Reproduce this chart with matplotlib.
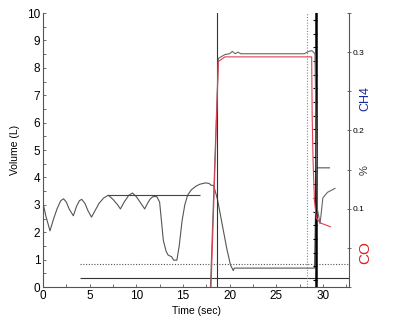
import matplotlib
matplotlib.use("Agg")
import matplotlib.pyplot as plt
from matplotlib.ticker import MultipleLocator
import numpy as np

plt.rcParams['font.family'] = ['Liberation Sans', 'DejaVu Sans']

# Volume trace (left axis, L)
vol_t = [0.0, 0.3, 0.75, 1.1, 1.5, 1.9, 2.2, 2.5, 2.8, 3.25, 3.6, 3.9, 4.15, 4.5, 4.8,
         5.2, 5.6, 6.0, 6.5, 7.0, 7.5, 8.0, 8.3, 8.7, 9.2, 9.6, 10.0, 10.5, 10.9,
         11.2, 11.5, 11.8, 12.2, 12.5, 12.7, 12.9, 13.2, 13.4, 13.8, 14.0,
         14.35, 14.6, 14.9, 15.2, 15.5, 15.9, 16.4, 16.8, 17.4, 17.8, 18.0, 18.3,
         18.7, 19.2, 19.7, 20.1, 20.4, 20.5, 29.1, 29.3, 30.7]
vol_v = [3.07, 2.6, 2.05, 2.45, 2.85, 3.15, 3.22, 3.1, 2.85, 2.6, 2.95, 3.15, 3.2, 3.05,
         2.8, 2.55, 2.8, 3.05, 3.25, 3.35, 3.2, 3.0, 2.85, 3.1, 3.35, 3.43, 3.3, 3.05,
         2.85, 3.05, 3.22, 3.3, 3.3, 3.1, 2.4, 1.7, 1.3, 1.17, 1.1, 0.98,
         0.98, 1.5, 2.4, 3.0, 3.35, 3.55, 3.68, 3.75, 3.8, 3.78, 3.72, 3.7,
         3.2, 2.3, 1.4, 0.8, 0.6, 0.69, 0.69, 4.35, 4.35]

# CH4 (right axis, %)
ch4_t = [17.95, 18.8, 19.5, 20.0, 20.3, 20.6, 20.9, 21.2, 25.0, 28.0, 28.5, 28.8,
         29.0, 29.15, 29.4, 29.7, 30.0, 30.5, 31.3]
ch4_v = [0.0, 0.292, 0.297, 0.298, 0.301, 0.298, 0.300, 0.298, 0.298, 0.298, 0.301,
         0.302, 0.300, 0.298, 0.10, 0.081, 0.114, 0.121, 0.126]

# CO (right axis, %)
co_t = [18.0, 18.8, 19.5, 28.8, 28.85, 28.95, 29.1, 29.3, 29.7, 30.8]
co_v = [-0.005, 0.288, 0.294, 0.294, 0.22, 0.16, 0.11, 0.088, 0.082, 0.077]

# reference lines
line_solid_t = 18.65
line_dotted_t = 28.3
line_thick_t = 29.3
hline_solid_v = 0.33
hline_dotted_v = 0.84
hline_start_t = 4.0
hline_mid_v = 3.37
hline_mid_range = (7.0, 16.8)

fig = plt.figure(figsize=(4.0, 3.27), dpi=100)
ax = fig.add_axes([0.1075, 0.1223, 0.765, 0.8378])
ax.set_xlim(0, 32.8)
ax.set_ylim(0, 10)

ax.plot(vol_t, vol_v, color='#555555', lw=0.8)
ax.hlines(hline_solid_v, hline_start_t, 32.8, color='#333333', lw=0.8)
ax.hlines(hline_dotted_v, hline_start_t, 32.8, color='#555555', lw=0.8, linestyles=(0, (1, 1.5)))
ax.hlines(hline_mid_v, *hline_mid_range, color='#444444', lw=0.8)
ax.axvline(line_solid_t, color='#333333', lw=0.8)
ax.axvline(line_dotted_t, color='#888888', lw=0.8, ls=(0, (1, 1.5)))
ax.axvline(line_thick_t, color='black', lw=1.8)
marks = np.arange(0.25, 10, 0.5)
ax.plot(np.full(len(marks), line_thick_t - 0.12), marks, ls='none', marker='_',
        color='black', ms=3, mew=0.8)

ax.spines['top'].set_visible(False)
ax.spines['right'].set_visible(False)
for s in ['left', 'bottom']:
    ax.spines[s].set_color('#555555')
    ax.spines[s].set_linewidth(0.8)
ax.xaxis.set_major_locator(MultipleLocator(5))
ax.xaxis.set_minor_locator(MultipleLocator(2.5))
ax.yaxis.set_major_locator(MultipleLocator(1))
ax.yaxis.set_minor_locator(MultipleLocator(0.5))
ax.tick_params(which='both', direction='in', length=2.5, width=0.6, color='#555555',
               labelsize=8.5, pad=2)
ax.set_xlabel('Time (sec)', fontsize=7.5, labelpad=3)
ax.set_ylabel('Volume (L)', fontsize=7.5, labelpad=5)

ax2 = ax.twinx()
ax2.set_ylim(0, 0.35)
ax2.plot(ch4_t, ch4_v, color='#666666', lw=0.8)
ax2.plot(co_t, co_v, color='#e04050', lw=0.8)
for s in ['top', 'left', 'bottom']:
    ax2.spines[s].set_visible(False)
ax2.spines['right'].set_color('#555555')
ax2.spines['right'].set_linewidth(0.8)
ax2.yaxis.set_major_locator(MultipleLocator(0.1))
ax2.yaxis.set_minor_locator(MultipleLocator(0.05))
ax2.set_yticks([0.1, 0.2, 0.3])
ax2.set_yticklabels(['0.1', '0.2', '0.3'])
ax2.tick_params(which='both', direction='inout', length=3, width=0.6, color='#555555',
                labelsize=6, pad=1)

fig.text(0.9125, 0.70, 'CH4', rotation=90, color='#1a2a9a', fontsize=9,
         ha='center', va='center')
fig.text(0.9125, 0.48, '%', rotation=90, color='#333333', fontsize=8,
         ha='center', va='center')
fig.text(0.9125, 0.228, 'CO', rotation=90, color='#e02020', fontsize=11,
         ha='center', va='center')

fig.savefig('out.png', dpi=100)
